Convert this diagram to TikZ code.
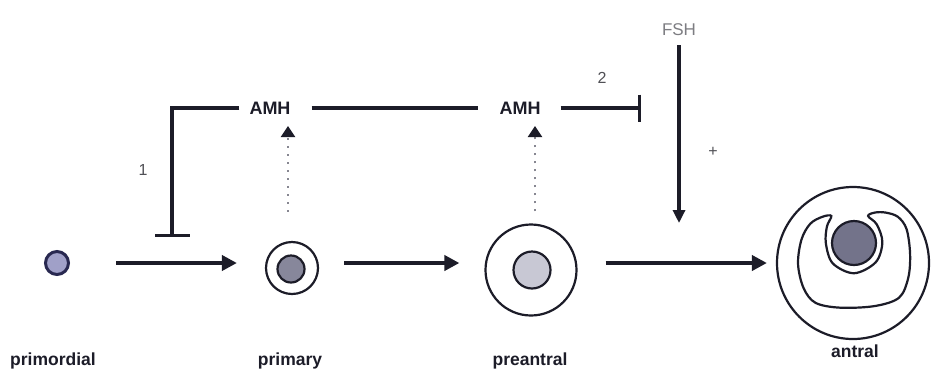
\documentclass[tikz,border=0pt]{standalone}
\usepackage{fontspec}
\setmainfont{Liberation Sans}
\usetikzlibrary{arrows.meta}

\definecolor{ink}{RGB}{28,28,40}
\definecolor{navy}{RGB}{40,40,80}
\definecolor{lavender}{RGB}{160,160,200}
\definecolor{oogrey}{RGB}{135,135,155}
\definecolor{palegrey}{RGB}{200,200,212}
\definecolor{darkoo}{RGB}{115,115,138}
\definecolor{dotgrey}{RGB}{135,135,145}
\definecolor{labelgrey}{RGB}{80,80,85}
\definecolor{fshgrey}{RGB}{125,125,130}

\tikzset{
  stagelabel/.style={inner sep=0pt, anchor=base, text=ink,
    font=\fontsize{17.5}{21}\selectfont\bfseries},
  hormone/.style={inner sep=0pt, text=ink,
    font=\fontsize{18}{21}\selectfont\bfseries},
  fshlabel/.style={inner sep=0pt, text=fshgrey,
    font=\fontsize{17}{20}\selectfont},
  smallnum/.style={inner sep=0pt, text=labelgrey,
    font=\fontsize{16}{19}\selectfont},
  ring/.style={circle, draw=ink, line width=2.2pt, inner sep=0pt},
  oocyte/.style={circle, draw=ink, line width=2.2pt, inner sep=0pt},
  mainarrow/.style={draw=ink, line width=4pt,
    -{Triangle[length=15pt,width=15pt]}},
  inhib/.style={draw=ink, line width=3.5pt},
  fsharrow/.style={draw=ink, line width=3.2pt,
    -{Triangle[length=13pt,width=12pt]}},
  secretion/.style={draw=dotgrey, line width=2pt,
    dash pattern=on 2pt off 6pt,
    -{Triangle[length=11pt,width=14pt,color=ink]}},
}

\begin{document}
\begin{tikzpicture}[x=1pt,y=-1pt]
  % page frame
  \fill[white] (0,0) rectangle (941,376);
  \useasboundingbox (0,0) rectangle (941,376);

  % follicle stages
  \node[circle, draw=navy, line width=3pt, fill=lavender, inner sep=0pt,
        minimum size=23pt] (primordial) at (57,263) {};

  \node[ring, minimum size=52pt] (primary) at (292,268) {};
  \node[oocyte, fill=oogrey, minimum size=27pt] (primaryoo) at (291,269) {};

  \node[ring, minimum size=91pt] (preantral) at (531,270) {};
  \node[oocyte, fill=palegrey, minimum size=37pt] (preantraloo) at (532,270) {};

  \node[ring, minimum size=152pt] (antral) at (853,263) {};
  \node[oocyte, fill=darkoo, minimum size=44pt] (antraloo) at (854,243) {};
  % antrum cavity wrapped round the oocyte
  \begin{scope}[shift={(antraloo.center)}, scale=1.05]
    \draw[ink, line width=2.2pt] plot[smooth cycle, tension=0.55] coordinates {
      (-21.6,-25.7) (-30,-25) (-41.6,-18.4) (-50,-3.4) (-53.3,20)
      (-48,43) (-36.6,57) (-13,61.6) (20,60) (43,52)
      (51.7,33) (53.4,10) (50,-13.4) (41.7,-25) (30,-29)
      (20,-29) (13.4,-25.7) (21.7,-17.7) (27,-0.7) (20.7,18.3)
      (0,28.8) (-20.3,19.3) (-26.8,0.3) (-25.8,-15.7)
    };
  \end{scope}

  % stage names
  \node[stagelabel] (lprimordial) at (53,365) {primordial};
  \node[stagelabel] (lprimary)    at (290,365) {primary};
  \node[stagelabel] (lpreantral)  at (530,365) {preantral};
  \node[stagelabel] (lantral)     at (855,357) {antral};

  % growth arrows
  \draw[mainarrow, shorten <=46pt, shorten >=28pt]
    (primordial.east) -- (primordial.east -| primary.west);
  \draw[mainarrow, shorten <=25pt, shorten >=25pt]
    (primary.east |- primordial.east) -- (primordial.east -| preantral.west);
  \draw[mainarrow, shorten <=28pt, shorten >=9pt]
    (preantral.east |- primordial.east) -- (primordial.east -| antral.west);

  % AMH and FSH
  \node[hormone] (amh1) at (270,108) {AMH};
  \node[hormone] (amh2) at (520,108) {AMH};
  \node[fshlabel] (fsh) at (679,30) {FSH};

  % AMH secretion by the growing follicles
  \coordinate (sec1) at (288,126);
  \coordinate (sec2) at (535,126);
  \draw[secretion, shorten <=29pt] (primary.north -| sec1) -- (sec1);
  \draw[secretion, shorten <=12pt] (preantral.north -| sec2) -- (sec2);

  % inhibition 1: recruitment of primordial follicles
  \coordinate (block1) at (172,237);
  \draw[inhib, -{Bar[width=35pt,line width=3.5pt]}]
    ([xshift=-10pt]amh1.west) -| (block1);
  \node[smallnum] (n1) at (143,170) {1};

  % link between the two AMH sources
  \draw[inhib, shorten <=21pt, shorten >=21pt] (amh1.east) -- (amh2.west);

  % inhibition 2: FSH sensitivity
  \coordinate (block2) at (641,108);
  \draw[inhib, -{Bar[width=27pt,line width=3.5pt]}]
    ([xshift=20pt]amh2.east) -- (block2);
  \node[smallnum] (n2) at (602,78) {2};

  % FSH stimulation
  \coordinate (fshend) at (679,223);
  \draw[fsharrow, shorten <=9pt] (fsh.south) -- (fshend);
  \node[smallnum] (plus) at (713,152) {+};
\end{tikzpicture}
\end{document}
